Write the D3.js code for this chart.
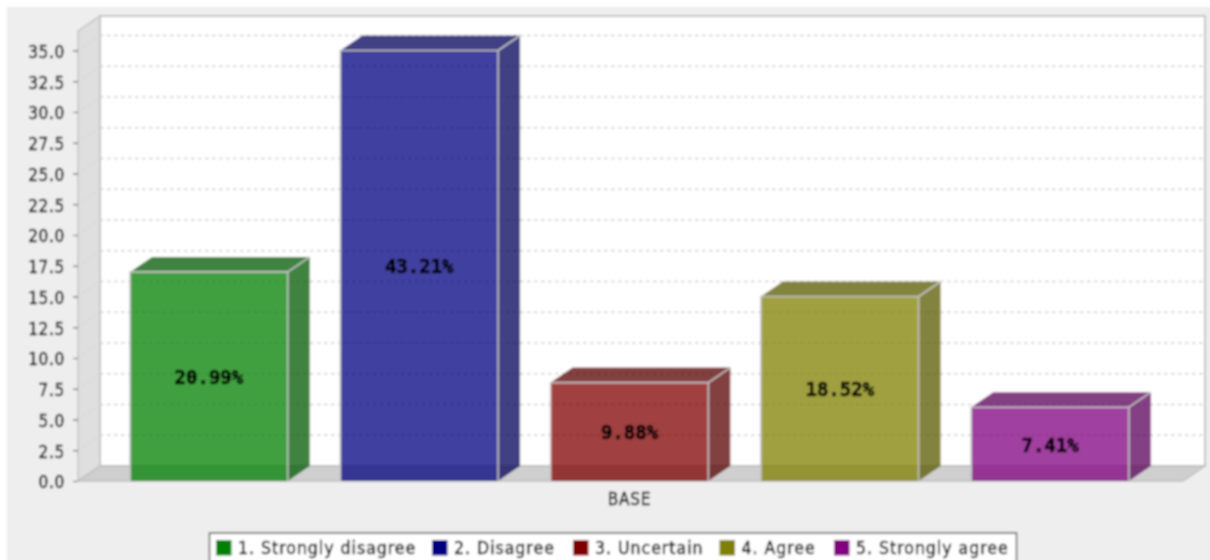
<!DOCTYPE html>
<html><head><meta charset="utf-8">
<script src="https://d3js.org/d3.v7.min.js"></script>
<style>html,body{margin:0;padding:0;background:#fff;overflow:hidden}svg{display:block}</style>
</head><body><svg id="c" width="1210" height="560"></svg>
<script>
const seriesNames = ["1. Strongly disagree","2. Disagree","3. Uncertain","4. Agree","5. Strongly agree"];
const seriesValues = [17,35,8,15,6];
const percentLabels = ["20.99%","43.21%","9.88%","18.52%","7.41%"];
const seriesColors = ["#008000","#000080","#800000","#808000","#800080"];
const yTicks = d3.range(0,35.01,2.5);
const categoryLabels = ["BASE"];

const dx=22, dy=15;
const x0=78,x1=1183,yB=481,yT=31;
const svg=d3.select("#c");
const defs=svg.append("defs");
defs.append("filter").attr("id","soft").attr("x","-2%").attr("y","-2%").attr("width","104%").attr("height","104%")
  .append("feGaussianBlur").attr("stdDeviation",0.8);
const g=svg.append("g").attr("filter","url(#soft)");
g.append("rect").attr("x",7).attr("y",7).attr("width",1210).attr("height",560).attr("fill","#eeeeee");

const y=d3.scaleLinear().domain([0,35]).range([yB,50.5]);
const x=d3.scaleBand().domain(seriesNames).range([x0-0.5,x1-1.5]).padding(0.25);
const xCat=d3.scaleBand().domain(categoryLabels).range([x0-1,x1-1]);

// walls
g.append("rect").attr("x",x0+dx).attr("y",yT-dy).attr("width",x1-x0).attr("height",yB-yT).attr("fill","#fff").attr("stroke","#c4c4c4").attr("stroke-width",2);
g.append("path").attr("d",`M${x0},${yT}L${x0+dx},${yT-dy}L${x0+dx},${yB-dy}L${x0},${yB}Z`).attr("fill","#dfdfdf").attr("stroke","#bdbdbd").attr("stroke-width",1.3);
g.append("path").attr("d",`M${x0},${yB}L${x0+dx},${yB-dy}L${x1+dx},${yB-dy}L${x1},${yB}Z`).attr("fill","#cfcfcf").attr("stroke","#bdbdbd").attr("stroke-width",1.3);

// grid
const grid=yTicks.filter(t=>t>0);
g.append("g").selectAll("line").data(grid).join("line")
  .attr("x1",x0+dx).attr("x2",x1+dx).attr("y1",d=>y(d)-dy).attr("y2",d=>y(d)-dy)
  .attr("stroke","#d0d0d0").attr("stroke-width",1.3).attr("stroke-dasharray","3.5 3.5");
g.append("g").selectAll("line").data(grid).join("line")
  .attr("x1",x0).attr("x2",x0+dx).attr("y1",d=>y(d)).attr("y2",d=>y(d)-dy)
  .attr("stroke","#d2d2d2").attr("stroke-width",1).attr("stroke-dasharray","3 3");

// bars
const bars=g.append("g").selectAll("g").data(seriesNames).join("g");
const val=(i)=>seriesValues[i];
bars.append("path").attr("d",(d,i)=>{const l=x(d)+x.bandwidth(),t=y(val(i));return `M${l},${t}L${l+dx},${t-dy}L${l+dx},${yB-dy}L${l},${yB}Z`;})
  .attr("fill",(d,i)=>d3.rgb(seriesColors[i]).darker(1)).attr("fill-opacity",0.75);
bars.append("path").attr("d",(d,i)=>{const l=x(d),r=l+x.bandwidth(),t=y(val(i));return `M${l},${t}L${l+dx},${t-dy}L${r+dx},${t-dy}L${r},${t}Z`;})
  .attr("fill",(d,i)=>d3.rgb(seriesColors[i]).darker(1)).attr("fill-opacity",0.75);
bars.append("rect").attr("x",d=>x(d)).attr("y",(d,i)=>y(val(i))).attr("width",x.bandwidth()).attr("height",(d,i)=>yB-y(val(i)))
  .attr("fill",(d,i)=>seriesColors[i]).attr("fill-opacity",0.75);
bars.append("path").attr("d",(d,i)=>{const l=x(d),r=l+x.bandwidth(),t=y(val(i));return `M${l},${yB}L${l},${t}L${r},${t}L${r},${yB}M${r},${t}L${r+dx},${t-dy}`;})
  .attr("fill","none").attr("stroke","#c4c4c4").attr("stroke-width",1.6);
bars.append("text").attr("x",d=>x(d)+x.bandwidth()/2).attr("y",(d,i)=>(y(val(i))+yB)/2+7.5)
  .attr("text-anchor","middle").attr("font-family","DejaVu Sans Mono").attr("font-weight","bold").attr("font-size",19)
  .attr("fill","#000").attr("stroke","#000").attr("stroke-width",0.7)
  .text((d,i)=>percentLabels[i]);

// axes
const ax=g.append("g").attr("transform",`translate(${x0},0)`)
  .call(d3.axisLeft(y).tickValues(yTicks).tickFormat(d3.format(".1f")).tickSize(5).tickPadding(8));
ax.select(".domain").remove();
ax.selectAll("line").attr("stroke","#444");
ax.selectAll("text").attr("font-family","DejaVu Sans Condensed, DejaVu Sans").attr("font-size",17).attr("letter-spacing",0.7).attr("dy","0.4em").attr("fill","#000").attr("stroke","#000").attr("stroke-width",0.45);

const bx=g.append("g").attr("transform",`translate(0,${yB})`)
  .call(d3.axisBottom(xCat).tickSize(0).tickPadding(12));
bx.select(".domain").remove();
bx.selectAll("text").attr("font-family","DejaVu Sans Condensed, DejaVu Sans").attr("font-size",17).attr("letter-spacing",0.75).attr("fill","#000").attr("stroke","#000").attr("stroke-width",0.45);

// legend
const legX=[216,432,573,719.5,834];
g.append("rect").attr("x",209.5).attr("y",533).attr("width",807).attr("height",40).attr("fill","#fff").attr("stroke","#555").attr("stroke-width",1.5);
const leg=g.append("g").selectAll("g").data(seriesNames).join("g").attr("transform",(d,i)=>`translate(${legX[i]},540)`);
leg.append("rect").attr("width",15.5).attr("height",15.5).attr("fill",(d,i)=>seriesColors[i]);
leg.append("text").attr("x",22).attr("y",14).attr("font-family","DejaVu Sans Condensed, DejaVu Sans").attr("font-size",17.5).attr("letter-spacing",1).attr("fill","#000").attr("stroke","#000").attr("stroke-width",0.45).text(d=>d);
</script></body></html>
